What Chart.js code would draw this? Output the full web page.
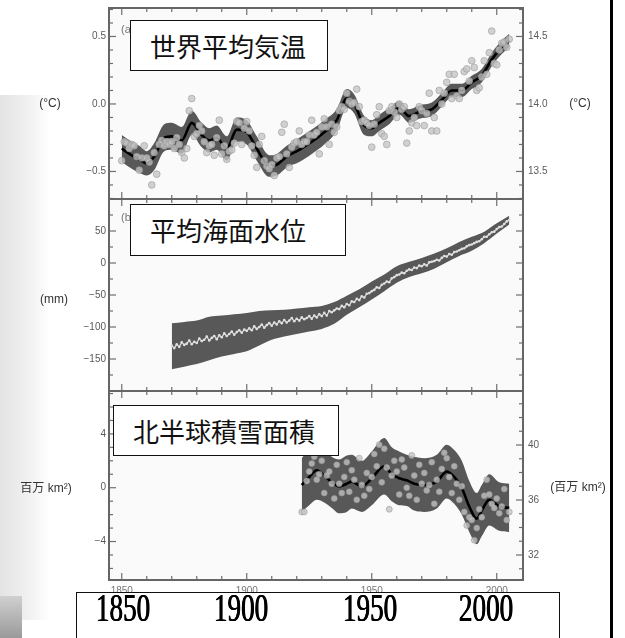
<!DOCTYPE html>
<html>
<head>
<meta charset="utf-8">
<script src="https://cdn.jsdelivr.net/npm/chart.js@4"></script>
<style>
body { margin: 0; background: #fff; width: 625px; height: 638px; overflow: hidden; position: relative; font-family: 'Liberation Sans', Arial, sans-serif; }
canvas { position: absolute; left: 0; z-index: 1; }
.strip { position: absolute; left: 0; top: 95px; width: 50px; height: 525px; background: linear-gradient(to right, #e4e4e4, #f0f0f0 55%, rgba(255,255,255,0)); z-index: 0; }
.corner { position: absolute; left: 0; top: 596px; width: 22px; height: 42px; background: linear-gradient(#d0d0d0, #9a9a9a); z-index: 0; }
.title { position: absolute; background: #fff; border: 1px solid #111; box-sizing: border-box; font-family: 'Noto Sans CJK JP', sans-serif; font-size: 26px; color: #111; padding-left: 19px; z-index: 5; white-space: nowrap; }
.yearbox { position: absolute; left: 76px; top: 592px; width: 482px; height: 60px; border: 1px solid #111; background: #fff; z-index: 5; }
.year { position: absolute; top: 588px; width: 100px; text-align: center; font-family: 'Liberation Serif', 'Times New Roman', serif; font-size: 40px; line-height: 40px; color: #000; text-shadow: 0.6px 0 0 #000, -0.4px 0 0 #000; transform: scaleX(0.68); z-index: 6; }
.edge { position: absolute; left: 610px; top: 0; width: 3px; height: 638px; background: #000; z-index: 7; }
</style>
</head>
<body>
<div class="strip"></div>
<div class="corner"></div>
<canvas id="tempChart" width="625" height="206" style="top:0px"></canvas>
<canvas id="seaChart" width="625" height="204" style="top:193px"></canvas>
<canvas id="snowChart" width="625" height="253" style="top:385px"></canvas>

<div class="title" style="left:130px;top:20px;width:198px;height:51px;line-height:49px">世界平均気温</div>
<div class="title" style="left:130px;top:204px;width:216px;height:52px;line-height:50px">平均海面水位</div>
<div class="title" style="left:113px;top:405px;width:226px;height:51px;line-height:49px">北半球積雪面積</div>

<div class="yearbox"></div>
<div class="year" style="left:73px">1850</div>
<div class="year" style="left:191px">1900</div>
<div class="year" style="left:320px">1950</div>
<div class="year" style="left:436px">2000</div>
<div class="edge"></div>

<script>
// x axis
const yearTicks = [1850, 1900, 1950, 2000];

// global mean temperature, annual anomaly (°C), 1850-2005
const tempStart = 1850;
const tempAnnual = [
    -0.42, -0.28, -0.29, -0.33, -0.30, -0.31, -0.39, -0.49, -0.40, -0.31,
    -0.40, -0.43, -0.60, -0.36, -0.52, -0.30, -0.27, -0.31, -0.28, -0.30,
    -0.28, -0.33, -0.25, -0.30, -0.36, -0.40, -0.33, -0.05, 0.04, -0.24,
    -0.22, -0.16, -0.20, -0.28, -0.36, -0.31, -0.30, -0.38, -0.25, -0.12,
    -0.37, -0.31, -0.41, -0.35, -0.34, -0.29, -0.13, -0.14, -0.30, -0.18,
    -0.13, -0.20, -0.31, -0.38, -0.47, -0.30, -0.24, -0.42, -0.46, -0.48,
    -0.45, -0.53, -0.40, -0.39, -0.21, -0.15, -0.37, -0.47, -0.32, -0.29,
    -0.28, -0.20, -0.30, -0.28, -0.28, -0.23, -0.12, -0.23, -0.21, -0.37,
    -0.17, -0.11, -0.17, -0.30, -0.15, -0.21, -0.17, -0.05, -0.02, -0.04,
    0.08, 0.02, 0.00, 0.01, 0.11, -0.02, -0.13, -0.12, -0.14, -0.16,
    -0.32, -0.15, -0.08, -0.02, -0.22, -0.24, -0.30, -0.05, -0.02, -0.06,
    -0.10, 0.00, -0.04, -0.02, -0.29, -0.20, -0.14, -0.10, -0.16, -0.02,
    -0.05, -0.16, -0.07, 0.08, -0.20, -0.10, -0.20, 0.10, 0.00, 0.08,
    0.16, 0.22, 0.04, 0.22, 0.06, 0.04, 0.10, 0.24, 0.26, 0.17,
    0.32, 0.27, 0.10, 0.12, 0.20, 0.32, 0.22, 0.38, 0.54, 0.30,
    0.29, 0.40, 0.45, 0.46, 0.42, 0.48
];
const tempSmoothYears = [1850, 1854, 1857, 1860, 1863, 1867, 1870, 1874, 1878, 1882, 1885, 1888, 1892, 1896, 1900, 1904, 1909, 1912, 1916, 1921, 1926, 1931, 1936, 1940, 1943, 1947, 1950, 1953, 1957, 1961, 1965, 1969, 1974, 1978, 1982, 1986, 1990, 1994, 1998, 2002, 2005];
const tempSmooth = [-0.33, -0.38, -0.41, -0.44, -0.39, -0.25, -0.24, -0.27, -0.14, -0.23, -0.27, -0.25, -0.33, -0.19, -0.21, -0.33, -0.46, -0.45, -0.39, -0.34, -0.28, -0.21, -0.12, 0.04, 0.00, -0.16, -0.18, -0.14, -0.09, -0.03, -0.09, -0.06, -0.04, 0.03, 0.10, 0.10, 0.16, 0.21, 0.33, 0.42, 0.47];
const tempHalf = [0.10, 0.10, 0.10, 0.09, 0.10, 0.10, 0.10, 0.10, 0.09, 0.09, 0.09, 0.09, 0.09, 0.09, 0.09, 0.09, 0.08, 0.08, 0.08, 0.09, 0.09, 0.09, 0.08, 0.07, 0.07, 0.07, 0.06, 0.06, 0.06, 0.05, 0.05, 0.05, 0.05, 0.05, 0.05, 0.05, 0.05, 0.05, 0.05, 0.05, 0.05];
const tempLabels = [-0.5, 0, 0.5];
const tempRightLabels = [13.5, 14.0, 14.5];

// global mean sea level (mm), 1870-2005
const seaStart = 1870;
const seaAnnual = [
    -129, -133, -127, -131, -124, -128, -126, -121, -127, -123,
    -125, -118, -122, -120, -115, -121, -117, -114, -119, -113,
    -116, -110, -114, -111, -107, -112, -108, -105, -109, -104,
    -106, -102, -105, -99, -103, -100, -96, -101, -97, -94,
    -98, -93, -96, -91, -94, -89, -93, -90, -86, -91,
    -87, -90, -85, -88, -86, -83, -87, -82, -85, -80,
    -83, -78, -82, -75, -77, -74, -71, -72, -67, -69,
    -64, -66, -60, -61, -56, -58, -52, -54, -48, -47,
    -44, -42, -38, -39, -34, -32, -29, -30, -24, -22,
    -19, -18, -15, -16, -12, -10, -11, -7, -8, -4,
    -5, -2, -4, 1, 2, 3, 5, 4, 8, 11,
    10, 14, 13, 17, 18, 20, 22, 23, 26, 28,
    29, 31, 33, 34, 37, 41, 41, 45, 48, 49,
    53, 56, 57, 61, 65, 67
];
const seaSmoothYears = [1870, 1875, 1880, 1885, 1890, 1895, 1900, 1905, 1910, 1915, 1920, 1925, 1930, 1935, 1940, 1945, 1950, 1955, 1960, 1965, 1970, 1975, 1980, 1985, 1990, 1995, 2000, 2005];
const seaSmooth = [-130, -127, -124, -118, -114, -111, -108, -102, -97, -94, -91, -88, -85, -78, -66, -55, -43, -31, -18, -10, -4, 3, 12, 22, 30, 40, 54, 67];
const seaHalf = [36, 35, 34, 34, 32, 31, 30, 27, 23, 21, 20, 19, 18, 17, 15, 14, 14, 13, 13, 12, 12, 12, 11, 11, 11, 9, 8, 7];
const seaLabels = [-150, -100, -50, 0, 50];

// northern hemisphere snow cover anomaly (million km2), 1922-2005
const snowStart = 1922;
const snowAnnual = [
    -1.8, -1.8, 0.5, 1.2, 1.8, 2.3, 0.6, 1.0,
    2.0, -0.4, 0.9, 1.2, 0.3, -0.8, 1.7, 0.3, -0.4, 0.8,
    1.9, -0.3, 1.3, 0.6, -0.9, 2.2, 0.2, -0.6, 1.1, -0.1,
    0.8, 2.5, 1.6, 3.2, 0.4, 2.9, 1.5, -1.6, 0.9, 2.0,
    1.2, -0.5, 2.1, 1.5, 0.0, -0.6, 2.4, 0.9, -0.9, 1.7,
    0.3, 1.1, -0.2, 0.2, 1.9, -1.2, 0.6, -0.3, 1.4, 2.6,
    2.2, 0.8, -0.4, 1.6, 0.3, -0.9, 0.1, -1.8, -2.8, -2.2,
    -2.4, -3.9, -3.0, -1.6, -2.2, -0.6, 0.6, -0.5, -1.2, -1.5,
    -0.8, -1.9, -1.4, -0.1, -2.4, -1.8
];
const snowSmoothYears = [1922, 1925, 1928, 1931, 1934, 1937, 1940, 1942, 1946, 1950, 1955, 1958, 1961, 1964, 1967, 1971, 1976, 1980, 1983, 1986, 1989, 1992, 1994, 1997, 2001, 2005];
const snowSmooth = [0.2, 0.8, 1.3, 0.9, 0.4, 0.1, 0.3, 0.45, 0.1, 0.7, 1.6, 1.0, 0.7, 0.55, 0.3, 0.2, 0.45, 1.2, 0.8, 0.0, -1.4, -2.3, -1.7, -0.9, -1.4, -1.5];
const snowHalf = [2.0, 2.1, 2.2, 2.0, 1.9, 2.0, 2.1, 2.0, 1.9, 2.0, 2.1, 2.0, 2.0, 1.9, 2.0, 2.0, 2.0, 2.0, 2.0, 2.0, 1.9, 1.9, 1.9, 1.9, 1.8, 1.8];
const snowLabels = [-4, 0, 4];
const snowRightLabels = [32, 36, 40];

function fmt(v, d) {
    return v.toFixed(d).replace('-', '\u2212');
}

function points(start, values) {
    return values.map((v, i) => ({ x: start + i, y: v }));
}

function band(years, center, half, sign) {
    return years.map((yr, i) => ({ x: yr, y: center[i] + sign * half[i] }));
}

// frame, inward ticks, tick labels and unit labels
const axisFrame = {
    id: 'axisFrame',
    beforeDraw(chart) {
        const a = chart.chartArea, ctx = chart.ctx;
        ctx.save();
        ctx.fillStyle = '#fafafa';
        ctx.fillRect(a.left, a.top, a.right - a.left, a.bottom - a.top);
        ctx.restore();
    },
    afterDraw(chart, args, o) {
        const ctx = chart.ctx, a = chart.chartArea, xs = chart.scales.x;
        const line = (x1, y1, x2, y2) => { ctx.beginPath(); ctx.moveTo(x1, y1); ctx.lineTo(x2, y2); ctx.stroke(); };
        ctx.save();
        ctx.strokeStyle = '#6e6e6e';
        ctx.lineWidth = 1.2;
        for (let yr = 1850; yr <= 2000; yr += 10) {
            const px = xs.getPixelForValue(yr);
            const len = yearTicks.includes(yr) ? 7 : 4;
            line(px, a.top, px, a.top + len);
            line(px, a.bottom, px, a.bottom - len);
        }
        ctx.fillStyle = '#5a5a5a';
        ctx.font = '10px "Liberation Sans", Arial, sans-serif';
        ctx.textBaseline = 'middle';
        o.axes.forEach(ax => {
            const s = chart.scales[ax.id];
            const left = ax.side === 'left';
            const x0 = left ? a.left : a.right;
            const dir = left ? 1 : -1;
            const n0 = Math.ceil(s.min / ax.step - 1e-9), n1 = Math.floor(s.max / ax.step + 1e-9);
            for (let n = n0; n <= n1; n++) {
                const v = n * ax.step;
                const py = s.getPixelForValue(v);
                const r = v / ax.major;
                const len = Math.abs(r - Math.round(r)) < 1e-6 ? 7 : 4;
                line(x0, py, x0 + dir * len, py);
            }
            ctx.textAlign = left ? 'right' : 'left';
            (ax.labels || []).forEach(v => {
                ctx.fillText(fmt(v, ax.digits), left ? a.left - 3 : a.right + 5, s.getPixelForValue(v));
            });
        });
        if (o.yearLabels) {
            ctx.textAlign = 'center';
            ctx.textBaseline = 'top';
            ctx.fillStyle = '#777';
            yearTicks.forEach(yr => ctx.fillText(String(yr), xs.getPixelForValue(yr), a.bottom + 6));
        }
        ctx.fillStyle = '#333';
        ctx.font = '12px "Liberation Sans", "Noto Sans CJK JP", sans-serif';
        ctx.textBaseline = 'middle';
        ctx.textAlign = 'center';
        (o.units || []).forEach(u => ctx.fillText(u.text, u.x, u.y - o.top));
        ctx.fillStyle = '#777';
        ctx.font = '11px "Liberation Sans", Arial, sans-serif';
        ctx.textAlign = 'left';
        ctx.textBaseline = 'top';
        if (o.letter) ctx.fillText(o.letter.text, o.letter.x, o.letter.y - o.top);
        ctx.strokeStyle = '#666';
        ctx.lineWidth = 2;
        ctx.strokeRect(a.left, a.top, a.right - a.left, a.bottom - a.top);
        ctx.restore();
    }
};

const dotStyle = { showLine: false, pointRadius: 3.4, pointBackgroundColor: 'rgba(196,196,196,0.78)', pointBorderColor: 'rgba(150,150,150,0.55)', pointBorderWidth: 1, order: 0 };
const smoothStyle = { borderColor: '#000', borderWidth: 2.6, pointRadius: 0, cubicInterpolationMode: 'monotone', order: 1 };
const upperStyle = { borderWidth: 0, borderColor: 'rgba(0,0,0,0)', pointRadius: 0, backgroundColor: '#585858', fill: '+1', cubicInterpolationMode: 'monotone', order: 2 };
const lowerStyle = { borderWidth: 0, borderColor: 'rgba(0,0,0,0)', pointRadius: 0, fill: false, cubicInterpolationMode: 'monotone', order: 3 };

function makePanel(id, datasets, yScales, padding, frameOpts) {
    const scales = { x: { type: 'linear', min: 1844.9, max: 2010.5, display: false } };
    Object.assign(scales, yScales);
    return new Chart(document.getElementById(id).getContext('2d'), {
        type: 'line',
        data: { datasets: datasets },
        options: {
            responsive: false, animation: false, events: [],
            layout: { padding: padding },
            scales: scales,
            plugins: { legend: { display: false }, tooltip: { enabled: false }, axisFrame: frameOpts }
        },
        plugins: [axisFrame]
    });
}

makePanel('tempChart', [
    Object.assign({ data: points(tempStart, tempAnnual) }, dotStyle),
    Object.assign({ data: tempSmoothYears.map((yr, i) => ({ x: yr, y: tempSmooth[i] })) }, smoothStyle),
    Object.assign({ data: band(tempSmoothYears, tempSmooth, tempHalf, 1) }, upperStyle),
    Object.assign({ data: band(tempSmoothYears, tempSmooth, tempHalf, -1) }, lowerStyle)
], {
    y: { type: 'linear', min: -0.704, max: 0.711, display: false },
    y2: { type: 'linear', position: 'right', min: 13.296, max: 14.711, display: false }
}, { top: 8, bottom: 7, left: 109, right: 102 }, {
    top: 0,
    axes: [
        { id: 'y', side: 'left', step: 0.1, major: 0.5, labels: tempLabels, digits: 1 },
        { id: 'y2', side: 'right', step: 0.1, major: 0.5, labels: tempRightLabels, digits: 1 }
    ],
    units: [{ text: '(°C)', x: 50, y: 104 }, { text: '(°C)', x: 580, y: 104 }],
    letter: { text: '(a)', x: 121, y: 24 }
});

makePanel('seaChart', [
    { data: points(seaStart, seaAnnual), borderColor: 'rgba(228,228,228,0.9)', borderWidth: 1.3, pointRadius: 1.3, pointBackgroundColor: '#e0e0e0', pointBorderWidth: 0, tension: 0, order: 0 },
    Object.assign({ data: band(seaSmoothYears, seaSmooth, seaHalf, 1) }, upperStyle),
    Object.assign({ data: band(seaSmoothYears, seaSmooth, seaHalf, -1) }, lowerStyle)
], {
    y: { type: 'linear', min: -200, max: 100, display: false }
}, { top: 6, bottom: 6, left: 109, right: 102 }, {
    top: 193,
    axes: [
        { id: 'y', side: 'left', step: 25, major: 50, labels: seaLabels, digits: 0 },
        { id: 'y', side: 'right', step: 25, major: 50, labels: [], digits: 0 }
    ],
    units: [{ text: '(mm)', x: 54, y: 300 }],
    letter: { text: '(b)', x: 121, y: 212 }
});

makePanel('snowChart', [
    Object.assign({ data: points(snowStart, snowAnnual) }, dotStyle, { pointRadius: 3 }),
    Object.assign({ data: snowSmoothYears.map((yr, i) => ({ x: yr, y: snowSmooth[i] })) }, smoothStyle),
    Object.assign({ data: band(snowSmoothYears, snowSmooth, snowHalf, 1) }, upperStyle),
    Object.assign({ data: band(snowSmoothYears, snowSmooth, snowHalf, -1) }, lowerStyle)
], {
    y: { type: 'linear', min: -6.86, max: 7.19, display: false },
    y2: { type: 'linear', position: 'right', min: 30.18, max: 43.93, display: false }
}, { top: 6, bottom: 58, left: 109, right: 102 }, {
    top: 385,
    axes: [
        { id: 'y', side: 'left', step: 1, major: 4, labels: snowLabels, digits: 0 },
        { id: 'y2', side: 'right', step: 1, major: 4, labels: snowRightLabels, digits: 0 }
    ],
    units: [{ text: '百万 km²)', x: 46, y: 489 }, { text: '(百万 km²)', x: 578, y: 488 }],
    yearLabels: true
});
</script>
</body>
</html>
